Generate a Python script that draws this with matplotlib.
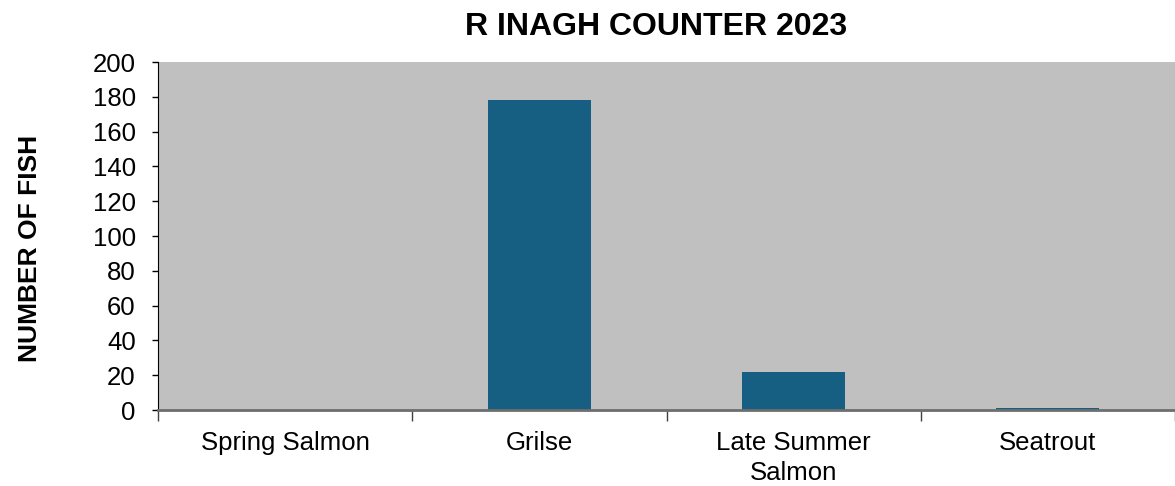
import matplotlib
matplotlib.use("Agg")
import matplotlib.pyplot as plt
import numpy as np

plt.rcParams["font.family"] = ["Liberation Sans", "DejaVu Sans"]

categories = ["Spring Salmon", "Grilse", "Late Summer\nSalmon", "Seatrout"]
fish_counts = [0, 178, 22, 1]
y_ticks = [0, 20, 40, 60, 80, 100, 120, 140, 160, 180, 200]

fig = plt.figure(figsize=(11.75, 4.86), dpi=100)
ax = fig.add_axes([158 / 1175, 1 - 410 / 486, 1 - 158 / 1175, (410 - 62) / 486])
ax.set_facecolor("#C0C0C0")

x = np.arange(len(categories))
ax.bar(x, fish_counts, width=0.405, color="#175F82", zorder=2)

ax.set_xlim(-0.5, len(categories) - 0.5)
ax.set_ylim(0, 200)
ax.set_yticks(y_ticks)
ax.tick_params(axis="y", labelsize=18.5, length=4, width=1, pad=12, direction="out")

# category labels at centers, tick marks at boundaries
ax.set_xticks(np.arange(-0.5, len(categories), 1.0))
ax.set_xticklabels([])
ax.tick_params(axis="x", which="major", length=8, width=1, color="#404040")
ax.set_xticks(x, minor=True)
ax.set_xticklabels(categories, minor=True, fontsize=18.5, linespacing=1.3)
ax.tick_params(axis="x", which="minor", length=0, pad=15)

for side in ("top", "right"):
    ax.spines[side].set_visible(False)
ax.spines["left"].set_color("black")
ax.spines["bottom"].set_color("#6E6E6E")
ax.spines["bottom"].set_linewidth(2)
ax.spines["bottom"].set_zorder(3)

fig.text(656 / 1175, 1 - 27 / 486, "R INAGH COUNTER 2023", ha="center", va="center",
         fontsize=23, fontweight="bold")
fig.text(30 / 1175, 1 - 248 / 486, "NUMBER OF FISH", ha="center", va="center",
         rotation=90, fontsize=19, fontweight="bold")

fig.savefig("out.png", dpi=100)
